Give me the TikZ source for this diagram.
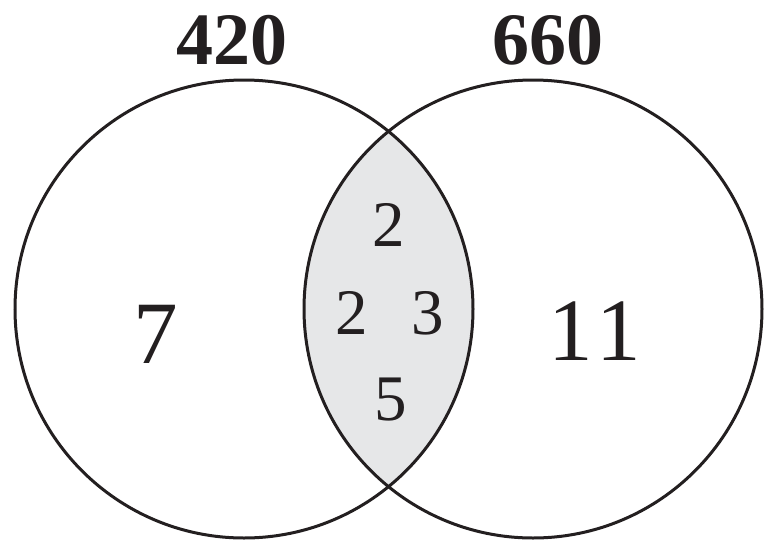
\documentclass[tikz,border=0pt]{standalone}
\usepackage{fontspec}
\setmainfont{Liberation Serif}
\definecolor{lensgray}{HTML}{E6E7E8}
\definecolor{inkc}{HTML}{231F20}
\begin{document}
\begin{tikzpicture}[x=1pt,y=-1pt,
  ring/.style={draw=inkc, line width=3pt},
  big/.style={inner sep=0pt, text=inkc, font=\fontsize{89}{89}\selectfont},
  mid/.style={inner sep=0pt, text=inkc, font=\fontsize{65}{65}\selectfont},
  head/.style={inner sep=0pt, text=inkc, font=\fontsize{74}{74}\selectfont\bfseries}]
\useasboundingbox (0,0) rectangle (764,539);
\coordinate (cl) at (244,309);
\coordinate (cr) at (533,309);
\begin{scope}
  \clip (cl) circle (229);
  \fill[lensgray] (cr) circle (229);
\end{scope}
\path[ring] (cl) circle (229);
\path[ring] (cr) circle (229);
\node[head] (h1) at (232,40) {420};
\node[head] (h2) at (548,40) {660};
\node[big] (a) at (156,334) {7};
\node[big] (b) at (595,331) {1\kern4pt1};
\node[mid] (c1) at (389,225) {2};
\node[mid] (c2) at (352,313) {2};
\node[mid] (c3) at (428,313) {3};
\node[mid] (c4) at (391,400) {5};
\end{tikzpicture}
\end{document}
